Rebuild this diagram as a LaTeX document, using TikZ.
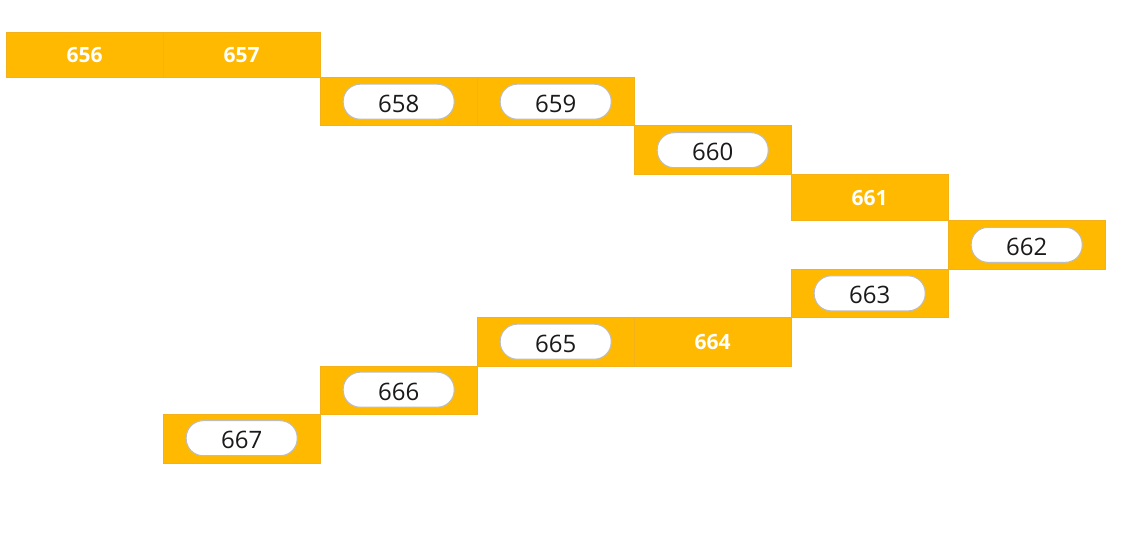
\documentclass[tikz,border=0pt]{standalone}
\usepackage{fontspec}
\setmainfont{Open Sans}
\definecolor{amber}{HTML}{FFB900}
\definecolor{seam}{HTML}{F3B21A}
\definecolor{pillline}{HTML}{BDBDBD}
\definecolor{ink}{HTML}{1A1A1A}
\tikzset{
  cell/.style={fill=amber, draw=seam, line width=0.4pt, minimum width=157pt, inner sep=0pt, anchor=north west},
  boldcell/.style={cell, text=white, font=\fontsize{21}{24}\selectfont\bfseries},
  pill/.style={fill=white, draw=pillline, line width=1pt, rounded corners=17pt, minimum width=111pt, minimum height=35pt, inner sep=0pt, text height=21pt, text depth=0pt, text=ink, font=\fontsize{24}{27}\selectfont}
}
\begin{document}
\begin{tikzpicture}[x=1pt,y=-1pt]
\useasboundingbox (0,0) rectangle (1128,548);
% row 1
\node[boldcell, minimum height=45.5pt] (c656) at (6,32) {656};
\node[boldcell, minimum height=45.5pt] (c657) at (163,32) {657};
% row 2
\node[cell, minimum height=48pt] (c658) at (320,77.5) {};
\node[pill] (p658) at (c658.center) {658};
\node[cell, minimum height=48pt] (c659) at (477,77.5) {};
\node[pill] (p659) at (c659.center) {659};
% row 3
\node[cell, minimum height=49pt] (c660) at (634,125.5) {};
\node[pill] (p660) at (c660.center) {660};
% row 4
\node[boldcell, minimum height=46pt] (c661) at (791,174.5) {661};
% row 5
\node[cell, minimum height=48.3pt] (c662) at (948,220.5) {};
\node[pill] (p662) at (c662.center) {662};
% row 6
\node[cell, minimum height=48.7pt] (c663) at (791,268.8) {};
\node[pill] (p663) at (c663.center) {663};
% row 7
\node[cell, minimum height=48pt] (c665) at (477,317.5) {};
\node[pill] (p665) at (c665.center) {665};
\node[boldcell, minimum height=48pt] (c664) at (634,317.5) {664};
% row 8
\node[cell, minimum height=48pt] (c666) at (320,365.5) {};
\node[pill] (p666) at (c666.center) {666};
% row 9
\node[cell, minimum height=49pt] (c667) at (163,413.5) {};
\node[pill] (p667) at (c667.center) {667};
\end{tikzpicture}
\end{document}
